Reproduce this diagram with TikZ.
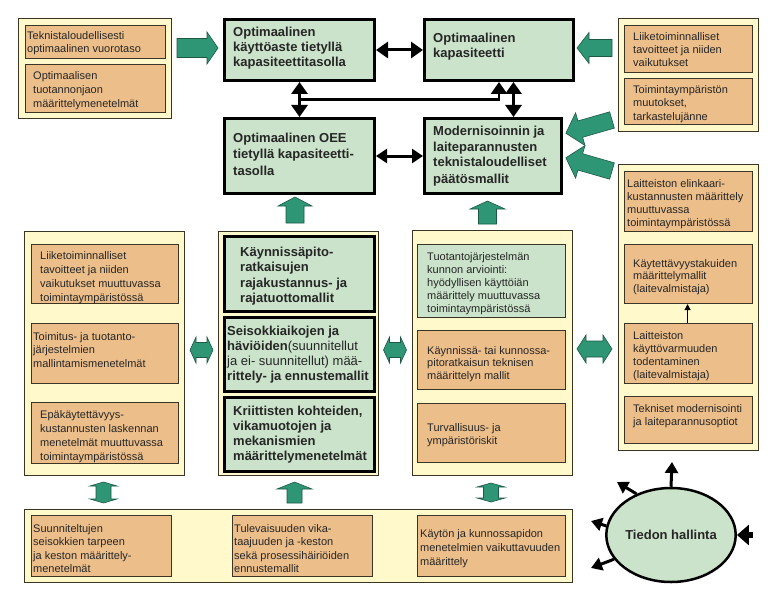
\documentclass[tikz,border=0pt]{standalone}
\usepackage{fontspec}
\setmainfont{Liberation Sans}
\usetikzlibrary{arrows.meta,shapes.geometric,calc}
\definecolor{panelY}{RGB}{255,249,204}
\definecolor{tanC}{RGB}{236,190,138}
\definecolor{greenB}{RGB}{202,227,202}
\definecolor{arrowG}{RGB}{46,150,116}
\definecolor{edgeD}{RGB}{60,52,36}
\newcommand{\mybox}[6]{\node[#1, anchor=north west, inner sep=0pt, minimum width={(#5-#3)*1pt}, minimum height={(#6-#4)*1pt}] (#2) at (#3,#4) {};}
\newcommand{\ml}[1]{\begin{tabular}[t]{@{}l@{}}#1\end{tabular}}
\newcommand{\GA}[7]{\begin{scope}[shift={(#1,#2)},rotate=#3]\draw[garr] (0,{-#6/2}) -- ({#4-#5},{-#6/2}) -- ({#4-#5},{-#7/2}) -- (#4,0) -- ({#4-#5},{#7/2}) -- ({#4-#5},{#6/2}) -- (0,{#6/2}) -- cycle;\end{scope}}
\newcommand{\GD}[7]{\begin{scope}[shift={(#1,#2)},rotate=#3]\draw[garr] ({-#4/2},0) -- ({-#4/2+#5},{-#7/2}) -- ({-#4/2+#5},{-#6/2}) -- ({#4/2-#5},{-#6/2}) -- ({#4/2-#5},{-#7/2}) -- ({#4/2},0) -- ({#4/2-#5},{#7/2}) -- ({#4/2-#5},{#6/2}) -- ({-#4/2+#5},{#6/2}) -- ({-#4/2+#5},{#7/2}) -- cycle;\end{scope}}
\begin{document}
\begin{tikzpicture}[x=1pt,y=-1pt,
  panel/.style={draw=edgeD, fill=panelY, line width=1pt},
  tanbox/.style={draw=edgeD, fill=tanC, line width=1.1pt},
  gbox/.style={draw=black, fill=greenB, line width=3pt},
  gthin/.style={draw=edgeD, fill=greenB, line width=1.1pt},
  stxt/.style={font=\fontsize{11}{13.5}\selectfont, anchor=base west, inner sep=0pt, text=black!85},
  btxt/.style={font=\fontsize{13}{15.5}\selectfont\bfseries, anchor=base west, inner sep=0pt, text=black!85},
  garr/.style={fill=arrowG, draw=arrowG!60!black, line width=0.6pt},
  blk/.style={draw=black, line width=3pt, -{Triangle[length=12pt,width=16pt]}},
  blkd/.style={draw=black, line width=3pt, {Triangle[length=12pt,width=16pt]}-{Triangle[length=12pt,width=16pt]}},
  blks/.style={draw=black, line width=3pt, -{Triangle[length=11pt,width=13pt]}}
]
\useasboundingbox (0,0) rectangle (783,599);
\fill[white] (0,0) rectangle (783,599);

% ---------- top-left panel
\mybox{panel}{ptl}{18}{18}{171}{118}
\mybox{tanbox}{tl1}{25}{25}{165}{58}
\mybox{tanbox}{tl2}{25}{64}{165}{112}
\node[stxt, font=\fontsize{11}{13}\selectfont] (ttl1) at (27,40) {\ml{Teknistaloudellisesti\\optimaalinen vuorotaso}};
\node[stxt, font=\fontsize{11}{14}\selectfont] (ttl2) at (33,80) {\ml{Optimaalisen\\tuotannonjaon\\määrittelymenetelmät}};

% ---------- top-right panel
\mybox{panel}{ptr}{618}{18}{758}{131}
\mybox{tanbox}{tr1}{624}{25}{752}{72}
\mybox{tanbox}{tr2}{624}{78}{752}{124}
\node[stxt, font=\fontsize{11}{13}\selectfont] (ttr1) at (633,41) {\ml{Liiketoiminnalliset\\tavoitteet ja niiden\\vaikutukset}};
\node[stxt, font=\fontsize{11}{13}\selectfont] (ttr2) at (633,94) {\ml{Toimintaympäristön\\muutokset,\\tarkastelujänne}};

% ---------- four main boxes
\mybox{gbox}{A}{223}{18}{373}{79}
\mybox{gbox}{B}{423}{18}{572}{79}
\mybox{gbox}{C}{223}{117}{373}{192}
\mybox{gbox}{D}{423}{117}{560}{192}
\node[btxt, font=\fontsize{13}{15}\selectfont\bfseries] (tA) at (233,37) {\ml{Optimaalinen\\käyttöaste tietyllä\\kapasiteettitasolla}};
\node[btxt, font=\fontsize{13}{15}\selectfont\bfseries] (tB) at (433,43) {\ml{Optimaalinen\\kapasiteetti}};
\node[btxt, font=\fontsize{13}{16.5}\selectfont\bfseries] (tC) at (233,142) {\ml{Optimaalinen OEE\\tietyllä kapasiteetti-\\tasolla}};
\node[btxt, font=\fontsize{13}{16}\selectfont\bfseries] (tD) at (433,135) {\ml{Modernisoinnin ja\\laiteparannusten\\teknistaloudelliset\\päätösmallit}};

% black connectors
\draw[blkd] (A.east) -- (B.west);
\draw[blkd, {Triangle[length=11pt,width=14pt]}-{Triangle[length=11pt,width=14pt]}] (C.east) -- (D.west);
\draw[blkd] (A.south) -- (C.north);
\draw[blkd] ([xshift=14.5pt]B.south) -- ([xshift=20.5pt]D.north);
\coordinate (ac) at ($(A.south)!0.5!(C.north)$);
\draw[blk, line width=2.5pt] (ac) -| (B.south);

% ---------- left-middle panel
\mybox{panel}{plm}{24}{231}{184}{475}
\mybox{tanbox}{lm1}{31}{244}{178}{303}
\mybox{tanbox}{lm2}{31}{323}{178}{383}
\mybox{tanbox}{lm3}{31}{402}{178}{463}
\node[stxt, font=\fontsize{11}{14}\selectfont] (tlm1) at (40,259) {\ml{Liiketoiminnalliset\\tavoitteet ja niiden\\vaikutukset muuttuvassa\\toimintaympäristössä}};
\node[stxt] (tlm2) at (33,340) {\ml{Toimitus- ja tuotanto-\\järjestelmien\\mallintamismenetelmät}};
\node[stxt, font=\fontsize{11}{14}\selectfont] (tlm3) at (40,418) {\ml{Epäkäytettävyys-\\kustannusten laskennan\\menetelmät muuttuvassa\\toimintaympäristössä}};

% ---------- middle panel
\mybox{panel}{pm}{218}{231}{378}{475}
\mybox{gbox}{m1}{223}{235}{373}{310}
\mybox{gbox}{m2}{223}{316}{373}{390}
\mybox{gbox}{m3}{223}{396}{373}{470}
\node[btxt] (tm1) at (240,256) {\ml{Käynnissäpito-\\ratkaisujen\\rajakustannus- ja\\rajatuottomallit}};
\node[btxt, font=\fontsize{13}{15}\selectfont\bfseries] (tm2) at (227,335) {\ml{Seisokkiaikojen ja\\häviöiden\textmd{(suunnitellut}\\\textmd{ja ei- suunnitellut) mää-}\\rittely- ja ennustemallit}};
\node[btxt, font=\fontsize{13}{15}\selectfont\bfseries] (tm3) at (233,415) {\ml{Kriittisten kohteiden,\\vikamuotojen ja\\mekanismien\\määrittelymenetelmät}};

% ---------- right-middle panel
\mybox{panel}{prm}{412}{230}{572}{475}
\mybox{gthin}{rm1}{417}{244}{565}{317}
\mybox{tanbox}{rm2}{417}{330}{565}{389}
\mybox{tanbox}{rm3}{417}{403}{565}{462}
\node[stxt, font=\fontsize{11}{13}\selectfont] (trm1) at (427,260) {\ml{Tuotantojärjestelmän\\kunnon arviointi:\\hyödyllisen käyttöiän\\määrittely muuttuvassa\\toimintaympäristössä}};
\node[stxt, font=\fontsize{11}{12.5}\selectfont] (trm2) at (427,354) {\ml{Käynnissä- tai kunnossa-\\pitoratkaisun teknisen\\määrittelyn mallit}};
\node[stxt, font=\fontsize{11}{13}\selectfont] (trm3) at (427,431) {\ml{Turvallisuus- ja\\ympäristöriskit}};

% ---------- far-right panel
\mybox{panel}{pfr}{618}{164}{758}{450}
\mybox{tanbox}{fr1}{624}{171}{752}{231}
\mybox{tanbox}{fr2}{624}{244}{752}{303}
\mybox{tanbox}{fr3}{624}{323}{752}{383}
\mybox{tanbox}{fr4}{624}{396}{752}{443}
\node[stxt, font=\fontsize{11}{13}\selectfont] (tfr1) at (627,187) {\ml{Laitteiston elinkaari-\\kustannusten määrittely\\muuttuvassa\\toimintaympäristössä}};
\node[stxt, font=\fontsize{11}{12.8}\selectfont] (tfr2) at (633,267) {\ml{Käytettävyystakuiden\\määrittelymallit\\(laitevalmistaja)}};
\node[stxt, font=\fontsize{11}{13.3}\selectfont] (tfr3) at (633,339) {\ml{Laitteiston\\käyttövarmuuden\\todentaminen\\(laitevalmistaja)}};
\node[stxt] (tfr4) at (633,412) {\ml{Tekniset modernisointi\\ja laiteparannusoptiot}};
\draw[black, line width=1pt, -{Triangle[length=6pt,width=6pt]}] ([xshift=-1pt]fr3.north) -- ([xshift=-1pt]fr2.south);

% ---------- bottom panel
\mybox{panel}{pb}{24}{509}{572}{582}
\mybox{tanbox}{b1}{31}{515}{171}{576}
\mybox{tanbox}{b2}{232}{515}{372}{576}
\mybox{tanbox}{b3}{417}{515}{565}{576}
\node[stxt] (tb1) at (33,532) {\ml{Suunniteltujen\\seisokkien tarpeen\\ja keston määrittely-\\menetelmät}};
\node[stxt] (tb2) at (234,532) {\ml{Tulevaisuuden vika-\\taajuuden ja -keston\\sekä prosessihäiriöiden\\ennustemallit}};
\node[stxt, font=\fontsize{11}{14}\selectfont] (tb3) at (420,537) {\ml{Käytön ja kunnossapidon\\menetelmien vaikuttavuuden\\määrittely}};

% ---------- green block arrows
\GA{177}{48}{0}{41}{11}{19}{32}
\GA{612}{48}{180}{35}{12}{17}{31}
\GA{612}{120}{196}{48}{15}{17}{34}
\GA{612}{171}{164}{48}{15}{17}{34}
\GA{295}{223}{90}{26}{9}{18}{34}
\GA{487.5}{224}{90}{23}{8}{18}{35}
\GD{201.5}{350}{0}{23}{6}{15}{26}
\GD{395}{350}{0}{23}{6}{15}{26}
\GD{594.5}{349}{0}{35}{9}{16}{28}
\GD{103.5}{492.5}{90}{21}{4}{15}{27}
\GA{294.5}{503}{90}{21}{7}{15}{35}
\GD{491}{492.5}{90}{19}{4}{15}{28}

% ---------- Tiedon hallinta
\node[ellipse, draw=black, line width=2.5pt, fill=greenB, minimum width=108pt, minimum height=94pt, inner sep=0pt, font=\fontsize{13}{15}\selectfont\bfseries, text=black!85] (E) at (671,535) {Tiedon hallinta};
\coordinate (e1) at (672,462);
\coordinate (e2) at (617,482);
\coordinate (e3) at (591,521);
\coordinate (e4) at (591,568);
\coordinate (e5) at (753,535);
\draw[blks] (E.north) -- (e1);
\draw[blks] (E.130) -- (e2);
\draw[blks] (E.172) -- (e3);
\draw[blks] (E.203) -- (e4);
\draw[draw=black, line width=6pt, -{Triangle[length=12pt,width=20pt]}] (e5) -- (E.east);
\end{tikzpicture}
\end{document}
